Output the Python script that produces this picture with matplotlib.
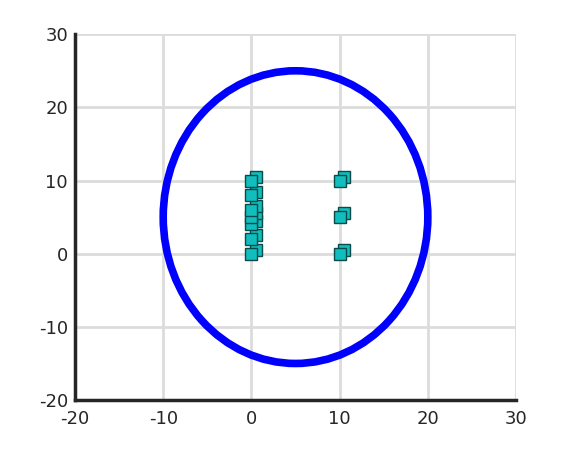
import matplotlib.pyplot as plt
from matplotlib.patches import Ellipse

plt.rcParams['axes.unicode_minus'] = False

# anneau (centre, largeurs)
centre_anneau = (5, 5)
largeur_anneau = 30
hauteur_anneau = 40

# carrés : points de base et points décalés
carres_x = [0, 0, 0, 0, 0, 0, 0, 10, 10, 10]
carres_y = [0, 2, 4, 5, 6, 8, 10, 0, 5, 10]
decales_x = [0.5, 0.5, 0.5, 0.5, 0.5, 0.5, 0.5, 10.5, 10.5, 10.5]
decales_y = [0.5, 2.5, 4.5, 5.5, 6.5, 8.5, 10.5, 0.5, 5.5, 10.5]

ticks = [-20, -10, 0, 10, 20, 30]

fig = plt.figure(figsize=(5.7, 4.5), dpi=100)
ax = fig.add_axes([0.1316, 0.111, 0.7737, 0.813])

ax.add_patch(Ellipse(centre_anneau, largeur_anneau, hauteur_anneau,
                     fill=False, edgecolor='#0000ff', linewidth=5.5, zorder=3))

ax.plot(decales_x, decales_y, 's', color='#12bdbd', markeredgecolor='#0a4a4a',
        markersize=8, markeredgewidth=1, zorder=4)
ax.plot(carres_x, carres_y, 's', color='#12bdbd', markeredgecolor='#0a4a4a',
        markersize=8, markeredgewidth=1, zorder=5)

ax.set_xlim(-20, 30)
ax.set_ylim(-20, 30)
ax.set_xticks(ticks)
ax.set_yticks(ticks)
ax.grid(True, color='#dcdcdc', linewidth=2)
ax.set_axisbelow(True)
for s in ['top', 'right']:
    ax.spines[s].set_visible(False)
for s in ['left', 'bottom']:
    ax.spines[s].set_linewidth(2.5)
    ax.spines[s].set_color('#262626')
ax.tick_params(length=0, labelsize=13, colors='#262626')
ax.tick_params(axis='x', pad=7)
ax.tick_params(axis='y', pad=5)

fig.savefig('out.png', dpi=100)
